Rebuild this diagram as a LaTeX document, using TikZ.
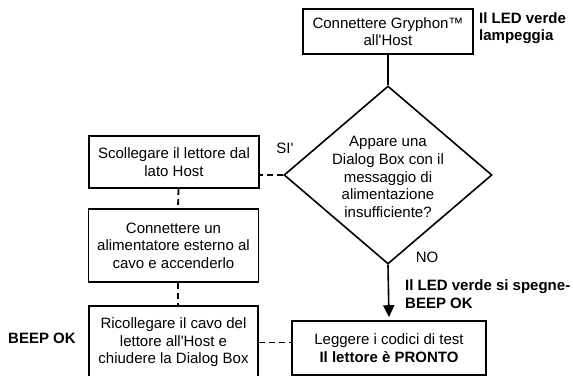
\documentclass[tikz,border=0pt]{standalone}
\usepackage{fontspec}
\newfontfamily\lsans{Liberation Sans}
\usetikzlibrary{shapes.geometric,arrows.meta}
\begin{document}
\begin{tikzpicture}[x=1pt,y=-1pt,
  txt/.style={font=\lsans\fontsize{15}{17.6}\selectfont, align=center, inner sep=0pt},
  stepbox/.style={txt, draw, line width=1.6pt},
  note/.style={font=\lsans\bfseries\fontsize{15}{17.6}\selectfont, align=left, inner sep=0pt},
  flow/.style={line width=1.6pt},
  dashlink/.style={flow, line width=1.8pt, dash pattern=on 6pt off 4pt}]
\useasboundingbox (0,0) rectangle (573,375);
\clip (0,0) rectangle (573,375);

% process boxes
\node[stepbox, minimum width=170pt, minimum height=45pt] (top) at (388,31.5)
  {Connettere Gryphon™\\all'Host};
\node[stepbox, minimum width=170pt, minimum height=52pt] (unplug) at (174,162)
  {Scollegare il lettore dal\\lato Host};
\node[stepbox, minimum width=170pt, minimum height=73pt] (power) at (173.5,245.5)
  {Connettere un\\alimentatore esterno al\\cavo e accenderlo};
\node[stepbox, minimum width=169pt, minimum height=73pt] (replug) at (173.5,342.5)
  {Ricollegare il cavo del\\lettore all'Host e\\chiudere la Dialog Box};
\node[stepbox, minimum width=194pt, minimum height=54pt] (ready) at (389,348)
  {Leggere i codici di test\\\textbf{Il lettore è PRONTO}};

% decision
\node[draw, line width=1.6pt, shape=diamond, minimum width=208pt, minimum height=178pt, inner sep=0pt] (dec) at (388,175) {};
\node[txt] (dectext) at (388,177)
  {Appare una\\Dialog Box con il\\messaggio di\\alimentazione\\insufficiente?};

% side notes
\node[note, anchor=west] (ledblink) at (479,28) {Il LED verde\\lampeggia};
\node[txt] (yes) at (285,148) {SI'};
\node[txt] (no) at (427,257) {NO};
\node[note, anchor=west] (ledoff) at (405,294) {Il LED verde si spegne-\\BEEP OK};
\node[note, anchor=west] (beep) at (8,338) {BEEP OK};

% connectors
\draw[flow] (top.south) -- (dec.north);
\draw[dashlink] (dec.west) -- (dec.west -| unplug.east);
\draw[dashlink] ([xshift=4.5pt]unplug.south) -- ([xshift=4.5pt]power.north);
\draw[dashlink] ([xshift=4.5pt]power.south) -- ([xshift=4.5pt]replug.north);
\draw[dashlink] (replug.east) -- (replug.east -| ready.west);
\draw[flow, -{Triangle[width=11pt,length=12pt]}, shorten >=3pt] (dec.south) -- (ready.north);
\end{tikzpicture}
\end{document}
